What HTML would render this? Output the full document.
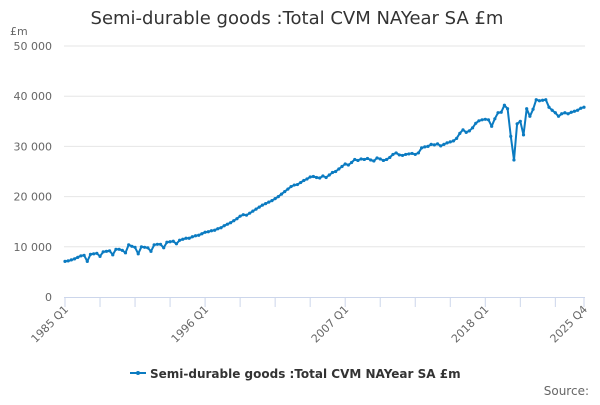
<!DOCTYPE html>
<html><head><meta charset="utf-8"><style>
body{margin:0;background:#fff;font-family:"Liberation Sans","DejaVu Sans",sans-serif}
svg text{font-family:"DejaVu Sans","Liberation Sans",sans-serif}
</style></head><body>
<svg id="chart" width="600" height="400" xmlns="http://www.w3.org/2000/svg">
<rect width="600" height="400" fill="#fff"/>
<text x="297" y="24" text-anchor="middle" font-size="18" fill="#333">Semi-durable goods :Total CVM NAYear SA £m</text>
<text x="10" y="35" font-size="11" fill="#666">£m</text>
<g id="grid"></g><g id="xaxis"></g><g id="series"></g>
<g>
<line x1="130" y1="373" x2="146" y2="373" stroke="#0b7bc1" stroke-width="2"/>
<circle cx="138" cy="373" r="2" fill="#0b7bc1"/>
<text x="150" y="378" font-size="12" font-weight="bold" fill="#333">Semi-durable goods :Total CVM NAYear SA £m</text>
</g>
<text x="589" y="395" text-anchor="end" font-size="12" fill="#666">Source:</text>
</svg>
<script>
const yTicks=[0,10000,20000,30000,40000,50000];
const yTickLabels=["0","10 000","20 000","30 000","40 000","50 000"];
const xLabelIdx=[0,44,88,132,163];
const xLabels=["1985 Q1","1996 Q1","2007 Q1","2018 Q1","2025 Q4"];
const values=[
7100,7200,7400,7600, 7900,8200,8300,7100, 8500,8600,8700,8100, 9000,9100,9200,8400,
9500,9500,9300,8800, 10400,10100,9900,8600, 10000,9900,9800,9100, 10400,10500,10500,9800,
10900,11000,11100,10600, 11300,11500,11700,11700, 12000,12200,12300,12600, 12900,13000,13200,13300,
13600,13800,14200,14500, 14800,15200,15600,16100, 16400,16300,16700,17100, 17500,17900,18300,18600,
18900,19200,19600,20000, 20500,21000,21500,22000, 22300,22400,22800,23200, 23500,23900,24000,23800,
23700,24100,23800,24300, 24800,25000,25500,26000, 26500,26300,26800,27400, 27200,27500,27400,27600,
27300,27100,27700,27500, 27200,27400,27800,28400, 28700,28300,28200,28400, 28500,28600,28400,28700,
29700,29900,30000,30400, 30300,30500,30100,30400, 30700,30900,31100,31600, 32600,33300,32800,33100,
33700,34600,35100,35300, 35400,35300,34000,35500, 36700,36800,38200,37500,
32000,27300,34500,35000, 32300,37500,36000,37400, 39300,39100,39200,39300,
37800,37200,36700,36000, 36500,36700,36500,36800, 37000,37200,37600,37800];
const NS="http://www.w3.org/2000/svg";
const x0=65,x1=584,yBase=297,yTop=46;
const n=values.length;
function xs(i){return x0+(x1-x0)*i/(n-1);}
function ys(v){return yBase-(yBase-yTop)*v/50000;}
function mk(tag,attrs,parent){const e=document.createElementNS(NS,tag);for(const k in attrs)e.setAttribute(k,attrs[k]);parent.appendChild(e);return e;}
const grid=document.getElementById('grid');
yTicks.forEach((t,i)=>{
 if(i>0){const l=mk('line',{x1:64,x2:585,y1:ys(t),y2:ys(t),stroke:'#e6e6e6','stroke-width':1},grid);
 
 }
 const tx=mk('text',{x:52,y:ys(t)+4,'text-anchor':'end','font-size':11,fill:'#666'},grid);
 tx.textContent=yTickLabels[i];
 
 
});
const xa=document.getElementById('xaxis');
const ax=mk('line',{x1:64,x2:585,y1:297.5,y2:297.5,stroke:'#ccd6eb','stroke-width':1},xa);


const tickIdx=[];for(let i=0;i<n;i+=11)tickIdx.push(i);tickIdx.push(n-1);
tickIdx.forEach(i=>{const t=mk('line',{x1:xs(i),x2:xs(i),y1:297,y2:307,stroke:'#ccd6eb','stroke-width':1},xa);
 
 });
xLabelIdx.forEach((i,k)=>{const x=xs(i)+4,y=310;
 const t=mk('text',{x:x,y:y,'text-anchor':'end','font-size':11,fill:'#666',transform:`rotate(-45 ${x} ${y})`},xa);
 t.textContent=xLabels[k];
 
 });
const sg=document.getElementById('series');
const pts=values.map((v,i)=>xs(i).toFixed(1)+','+ys(v).toFixed(1)).join(' ');
const pl=mk('polyline',{points:pts,fill:'none',stroke:'#0b7bc1','stroke-width':2,'stroke-linejoin':'round'},sg);


values.forEach((v,i)=>{const c=mk('circle',{cx:xs(i),cy:ys(v),r:1.6,fill:'#0b7bc1'},sg);
 
 });
</script>
</body></html>
